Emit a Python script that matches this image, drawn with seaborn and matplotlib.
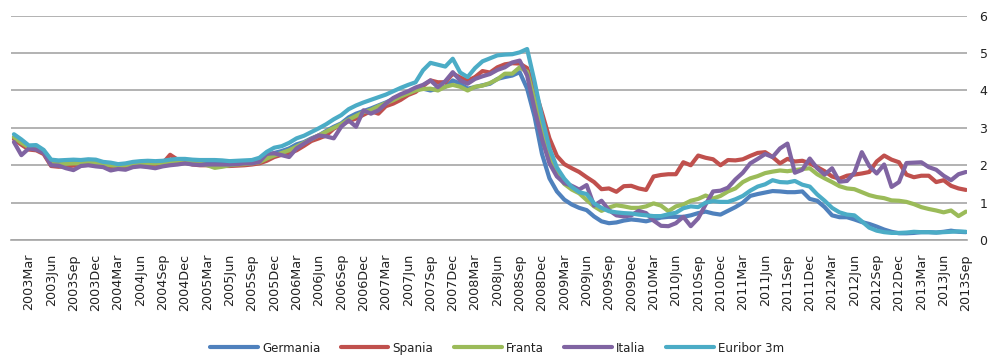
import numpy as np
import pandas as pd
import matplotlib
matplotlib.use("Agg")
import matplotlib.pyplot as plt
import seaborn as sns

# Monthly rates, January 2003 - September 2013 (one row per year)
germania = [
    2.75, 2.62, 2.48, 2.47, 2.36, 2.07, 2.05, 2.06, 2.07, 2.07, 2.08, 2.07,
    2.02, 2.00, 1.97, 1.99, 2.02, 2.05, 2.06, 2.05, 2.07, 2.10, 2.10, 2.09,
    2.08, 2.07, 2.07, 2.06, 2.05, 2.04, 2.05, 2.06, 2.07, 2.10, 2.25, 2.33,
    2.38, 2.45, 2.56, 2.62, 2.72, 2.80, 2.92, 3.03, 3.12, 3.28, 3.38, 3.45,
    3.52, 3.60, 3.68, 3.77, 3.85, 3.95, 4.02, 4.05, 4.00, 4.05, 4.10, 4.27,
    4.18, 4.05, 4.09, 4.14, 4.18, 4.31, 4.36, 4.40, 4.49, 4.05, 3.30, 2.30,
    1.65, 1.30, 1.08, 0.95, 0.86, 0.80, 0.63, 0.50, 0.45, 0.47, 0.52, 0.55,
    0.53, 0.50, 0.55, 0.60, 0.62, 0.62, 0.62, 0.66, 0.72, 0.76, 0.71, 0.68,
    0.78, 0.88, 1.00, 1.18, 1.23, 1.27, 1.31, 1.30, 1.28, 1.28, 1.30, 1.10,
    1.05, 0.88, 0.66, 0.61, 0.61, 0.55, 0.48, 0.43, 0.36, 0.28, 0.22, 0.18,
    0.18, 0.19, 0.21, 0.21, 0.20, 0.22, 0.25, 0.22, 0.21,
]

spania = [
    2.70, 2.55, 2.42, 2.40, 2.30, 1.98, 1.96, 1.97, 1.99, 2.00, 2.01, 2.02,
    1.98, 1.95, 1.93, 1.95, 1.97, 2.00, 2.02, 2.02, 2.05, 2.28, 2.15, 2.08,
    2.02, 2.00, 2.00, 1.98, 1.98, 1.98, 1.99, 2.00, 2.02, 2.05, 2.12, 2.22,
    2.28, 2.32, 2.40, 2.52, 2.65, 2.72, 2.80, 2.98, 3.08, 3.18, 3.25, 3.35,
    3.45, 3.38, 3.58, 3.65, 3.75, 3.88, 3.96, 4.12, 4.27, 4.22, 4.22, 4.45,
    4.35, 4.26, 4.36, 4.52, 4.48, 4.62, 4.70, 4.73, 4.72, 4.60, 4.05, 3.40,
    2.72, 2.25, 2.03, 1.92, 1.82, 1.68, 1.55, 1.36, 1.38, 1.29, 1.44, 1.45,
    1.38, 1.34, 1.70, 1.74, 1.76, 1.76, 2.08, 2.00, 2.26, 2.20, 2.16, 2.00,
    2.14, 2.13, 2.16, 2.25, 2.33, 2.35, 2.22, 2.05, 2.17, 2.10, 2.12, 2.05,
    1.95, 1.84, 1.70, 1.64, 1.72, 1.75, 1.78, 1.82, 2.10, 2.26, 2.15, 2.08,
    1.75, 1.68, 1.72, 1.72, 1.55, 1.60, 1.45, 1.38, 1.34,
]

franta = [
    2.75, 2.60, 2.48, 2.46, 2.35, 2.03, 2.02, 2.04, 2.05, 2.05, 2.07, 2.06,
    2.02, 2.00, 1.98, 2.00, 2.02, 2.04, 2.05, 2.05, 2.06, 2.08, 2.10, 2.10,
    2.06, 2.04, 2.00, 1.93, 1.96, 2.00, 2.02, 2.03, 2.05, 2.08, 2.18, 2.26,
    2.33, 2.40, 2.50, 2.60, 2.70, 2.80, 2.90, 3.00, 3.10, 3.22, 3.32, 3.42,
    3.48, 3.58, 3.66, 3.74, 3.84, 3.92, 4.00, 4.04, 4.05, 4.00, 4.10, 4.15,
    4.10, 4.00, 4.10, 4.13, 4.20, 4.30, 4.45, 4.45, 4.62, 4.50, 3.75, 2.95,
    2.20, 1.78, 1.50, 1.35, 1.25, 1.07, 0.90, 0.78, 0.87, 0.93, 0.90, 0.86,
    0.86, 0.90, 0.98, 0.92, 0.77, 0.90, 0.95, 1.05, 1.10, 1.19, 1.11, 1.18,
    1.30, 1.38, 1.55, 1.65, 1.71, 1.79, 1.83, 1.86, 1.84, 1.87, 1.90, 1.92,
    1.76, 1.65, 1.55, 1.44, 1.38, 1.36, 1.28, 1.20, 1.15, 1.12, 1.06, 1.05,
    1.02, 0.96, 0.88, 0.83, 0.79, 0.74, 0.79, 0.64, 0.76,
]

italia = [
    2.62, 2.27, 2.45, 2.42, 2.33, 2.00, 1.99, 1.92, 1.87, 1.98, 2.00, 1.97,
    1.95, 1.86, 1.90, 1.88, 1.95, 1.97, 1.95, 1.92, 1.97, 2.00, 2.02, 2.05,
    2.02, 2.01, 2.02, 2.02, 2.02, 2.02, 2.03, 2.05, 2.05, 2.09, 2.31, 2.32,
    2.27, 2.22, 2.45, 2.58, 2.70, 2.80, 2.77, 2.72, 3.03, 3.20, 3.03, 3.47,
    3.38, 3.47, 3.65, 3.80, 3.90, 3.98, 4.08, 4.15, 4.27, 4.09, 4.25, 4.49,
    4.27, 4.18, 4.31, 4.38, 4.44, 4.55, 4.62, 4.75, 4.80, 4.40, 3.50, 2.70,
    2.05, 1.70, 1.52, 1.45, 1.35, 1.47, 0.92, 1.05, 0.80, 0.66, 0.63, 0.66,
    0.78, 0.72, 0.52, 0.38, 0.37, 0.45, 0.62, 0.37, 0.58, 0.95, 1.30, 1.32,
    1.40, 1.62, 1.80, 2.05, 2.17, 2.30, 2.22, 2.45, 2.58, 1.80, 1.88, 2.18,
    1.92, 1.75, 1.92, 1.56, 1.58, 1.80, 2.35, 1.98, 1.78, 2.02, 1.42, 1.55,
    2.06, 2.07, 2.08, 1.95, 1.88, 1.72, 1.60, 1.76, 1.82,
]

euribor_3m = [
    2.83, 2.69, 2.53, 2.54, 2.41, 2.15, 2.13, 2.14, 2.15, 2.14, 2.16, 2.15,
    2.09, 2.07, 2.03, 2.05, 2.09, 2.11, 2.12, 2.11, 2.12, 2.15, 2.17, 2.17,
    2.15, 2.14, 2.14, 2.14, 2.13, 2.11, 2.12, 2.13, 2.14, 2.20, 2.36, 2.47,
    2.51, 2.60, 2.72, 2.79, 2.89, 2.99, 3.10, 3.23, 3.34, 3.50, 3.60, 3.68,
    3.75, 3.82, 3.89, 3.98, 4.07, 4.15, 4.22, 4.54, 4.74, 4.69, 4.64, 4.85,
    4.48, 4.36, 4.60, 4.78, 4.86, 4.94, 4.96, 4.97, 5.02, 5.11, 4.24, 3.29,
    2.46, 1.94, 1.64, 1.42, 1.28, 1.23, 0.98, 0.86, 0.77, 0.74, 0.72, 0.71,
    0.68, 0.66, 0.64, 0.64, 0.69, 0.73, 0.85, 0.90, 0.88, 1.00, 1.04, 1.02,
    1.02, 1.09, 1.18, 1.32, 1.43, 1.49, 1.60, 1.55, 1.54, 1.58, 1.48, 1.43,
    1.22, 1.05, 0.86, 0.74, 0.68, 0.66, 0.50, 0.33, 0.25, 0.21, 0.19, 0.19,
    0.20, 0.22, 0.21, 0.21, 0.20, 0.21, 0.22, 0.23, 0.22,
]

series_names = ["Germania", "Spania", "Franta", "Italia", "Euribor 3m"]
series_colors = ["#4F81BD", "#C0504D", "#9BBB59", "#8064A2", "#4BACC6"]
month_names = ["Jan", "Feb", "Mar", "Apr", "May", "Jun",
               "Jul", "Aug", "Sep", "Oct", "Nov", "Dec"]
first_year = 2003
y_ticks = [0, 1, 2, 3, 4, 5, 6]

values = [germania, spania, franta, italia, euribor_3m]
n_months = len(euribor_3m)
month_index = np.arange(n_months)
month_labels = [f"{first_year + m // 12}{month_names[m % 12]}" for m in month_index]

df = pd.concat(
    [pd.DataFrame({"t": month_index, "rate": v, "serie": name})
     for name, v in zip(series_names, values)],
    ignore_index=True,
)

sns.set_theme(style="white")
plt.rcParams["font.family"] = ["DejaVu Sans"]

fig = plt.figure(figsize=(9.88, 3.56), dpi=100)
ax = fig.add_axes([0.0111, 0.3258, 0.9677, 0.630])

sns.lineplot(
    data=df, x="t", y="rate", hue="serie", hue_order=series_names,
    palette=dict(zip(series_names, series_colors)), linewidth=3.0,
    ax=ax, legend=False, solid_joinstyle="round", solid_capstyle="round",
)

ax.set_xlim(-0.4, n_months - 1 + 0.15)
ax.set_ylim(0, 6)
ax.set_yticks(y_ticks)
ax.yaxis.tick_right()
ax.tick_params(axis="y", length=0, pad=9, labelsize=9, labelcolor="#222222")
ax.grid(axis="y", color="#a6a6a6", linewidth=1.2)
ax.set_axisbelow(True)

quarter_ticks = month_index[2::3]
ax.set_xticks(quarter_ticks)
ax.set_xticklabels([month_labels[i] for i in quarter_ticks], rotation=90)
ax.tick_params(axis="x", length=0, pad=10, labelsize=9.2, labelcolor="#222222")

for side in ["left", "right", "top"]:
    ax.spines[side].set_visible(False)
ax.spines["bottom"].set_color("#a6a6a6")
ax.spines["bottom"].set_linewidth(1.2)
ax.set_xlabel("")
ax.set_ylabel("")

handles = [plt.Line2D([], [], color=c, linewidth=3.0, solid_capstyle="round")
           for c in series_colors]
fig.legend(handles, series_names, loc="center", bbox_to_anchor=(0.503, 0.022),
           ncol=5, frameon=False, fontsize=8.6, handlelength=4.0,
           handletextpad=0.35, columnspacing=1.7, labelcolor="#222222")

fig.savefig("out.png", dpi=100)
